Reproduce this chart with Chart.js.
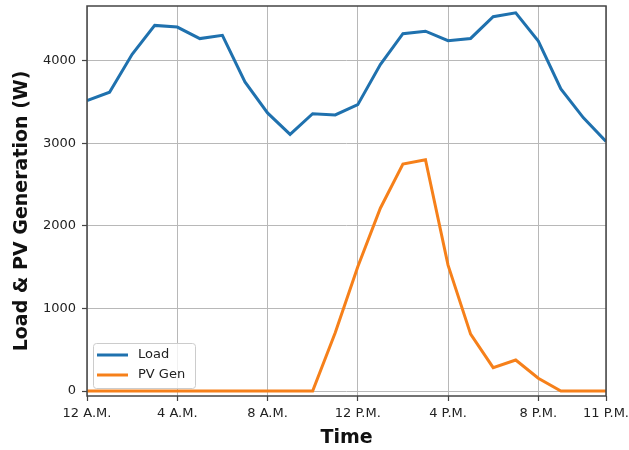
<!DOCTYPE html>
<html>
<head>
<meta charset="utf-8">
<script src="https://cdn.jsdelivr.net/npm/chart.js@4.4.1/dist/chart.umd.min.js"></script>
<style>
    html, body { margin: 0; padding: 0; background: #fff; }
    #wrap { width: 629px; height: 450px; }
</style>
</head>
<body>
<div id="wrap"><canvas id="chart" width="629" height="450"></canvas></div>
<script>
// Dados do gráfico
const hours = [0, 1, 2, 3, 4, 5, 6, 7, 8, 9, 10, 11, 12, 13, 14, 15, 16, 17, 18, 19, 20, 21, 22, 23];
const loadWatts = [3520, 3620, 4080, 4430, 4410, 4270, 4310, 3745, 3370, 3110, 3360, 3345, 3470,
                   3955, 4330, 4360, 4245, 4272, 4535, 4583, 4240, 3660, 3310, 3025];
const pvWatts = [0, 0, 0, 0, 0, 0, 0, 0, 0, 0, 0, 705, 1505, 2215, 2750, 2803, 1525, 690, 283, 376, 155, 0, 0, 0];
const xTickHours = [0, 4, 8, 12, 16, 20, 23];
const xTickLabels = ['12 A.M.', '4 A.M.', '8 A.M.', '12 P.M.', '4 P.M.', '8 P.M.', '11 P.M.'];
const yTickValues = [0, 1000, 2000, 3000, 4000];
const seriesNames = ['Load', 'PV Gen'];

const FONT = 'DejaVu Sans';
const BLUE = '#1f71ae';
const ORANGE = '#f6801a';

// Moldura nos quatro lados (como o matplotlib)
const framePlugin = {
    id: 'frame',
    afterDatasetsDraw(chart) {
        const { ctx, chartArea: a } = chart;
        ctx.save();
        ctx.strokeStyle = '#444';
        ctx.lineWidth = 1.5;
        ctx.strokeRect(a.left, a.top, a.right - a.left, a.bottom - a.top);
        ctx.restore();
    }
};

// Legenda dentro da área do gráfico, canto inferior esquerdo
const innerLegend = {
    id: 'innerLegend',
    afterDraw(chart) {
        const { ctx, chartArea: a } = chart;
        const x = a.left + 6, y = a.bottom - 53, w = 102, h = 45;
        ctx.save();
        ctx.fillStyle = 'rgba(255,255,255,0.8)';
        ctx.strokeStyle = '#cccccc';
        ctx.lineWidth = 1;
        ctx.beginPath();
        ctx.roundRect(x + 0.5, y + 0.5, w, h, 3);
        ctx.fill();
        ctx.stroke();
        ctx.font = '13px "' + FONT + '"';
        ctx.textBaseline = 'middle';
        ctx.fillStyle = '#222';
        chart.data.datasets.forEach((ds, i) => {
            const ly = y + 12 + i * 20;
            ctx.strokeStyle = ds.borderColor;
            ctx.lineWidth = 3;
            ctx.beginPath();
            ctx.moveTo(x + 4, ly);
            ctx.lineTo(x + 35, ly);
            ctx.stroke();
            ctx.fillText(ds.label, x + 45, ly);
        });
        ctx.restore();
    }
};

const ctx = document.getElementById('chart').getContext('2d');
const chart = new Chart(ctx, {
    type: 'line',
    data: {
        datasets: [{
            label: seriesNames[0],
            data: hours.map((h, i) => ({ x: h, y: loadWatts[i] })),
            borderColor: BLUE,
            borderWidth: 3,
            pointRadius: 0,
            tension: 0,
            fill: false
        }, {
            label: seriesNames[1],
            data: hours.map((h, i) => ({ x: h, y: pvWatts[i] })),
            borderColor: ORANGE,
            borderWidth: 3,
            pointRadius: 0,
            tension: 0,
            fill: false
        }]
    },
    options: {
        responsive: false,
        animation: false,
        layout: { padding: { left: 0, top: 6, right: 23, bottom: 0 } },
        plugins: {
            legend: { display: false },
            tooltip: { enabled: false }
        },
        scales: {
            x: {
                type: 'linear',
                min: 0,
                max: 23,
                afterBuildTicks: s => { s.ticks = xTickHours.map(v => ({ value: v })); },
                afterFit: s => { s.height = 54; s.paddingLeft = 0; s.paddingRight = 0; },
                ticks: {
                    autoSkip: false,
                    maxRotation: 0,
                    padding: 5,
                    color: '#222',
                    font: { family: FONT, size: 13 },
                    callback: v => xTickLabels[xTickHours.indexOf(v)]
                },
                grid: { color: '#b8b8b8', lineWidth: 1, tickLength: 5, tickColor: '#444', tickWidth: 1.2 },
                border: { display: false },
                title: {
                    display: true,
                    text: 'Time',
                    color: '#111',
                    font: { family: FONT, size: 19, weight: 'bold', lineHeight: 1.2 },
                    padding: { top: 0, bottom: 1 }
                }
            },
            y: {
                min: -60,
                max: 4665,
                afterBuildTicks: s => { s.ticks = yTickValues.map(v => ({ value: v })); },
                afterFit: s => { s.width = 87; s.paddingTop = 0; s.paddingBottom = 0; },
                ticks: {
                    padding: 6,
                    color: '#222',
                    font: { family: FONT, size: 13 },
                    callback: v => String(v)
                },
                grid: { color: '#b8b8b8', lineWidth: 1, tickLength: 5, tickColor: '#444', tickWidth: 1.2 },
                border: { display: false },
                title: {
                    display: true,
                    // espaços no fim descem um pouco o título, como na imagem
                    text: 'Load & PV Generation (W)   ',
                    color: '#111',
                    font: { family: FONT, size: 19, weight: 'bold', lineHeight: 1.2 },
                    padding: { top: 11, bottom: 0 }
                }
            }
        }
    },
    plugins: [framePlugin, innerLegend]
});
</script>
</body>
</html>
